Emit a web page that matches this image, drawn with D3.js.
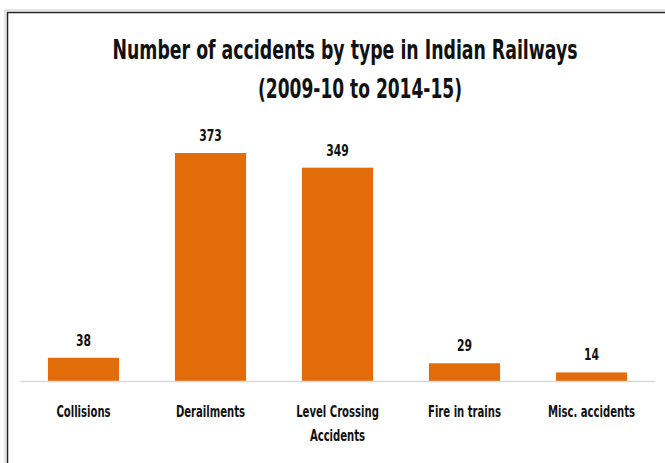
<!DOCTYPE html>
<html>
<head>
<meta charset="utf-8">
<script src="https://cdn.jsdelivr.net/npm/d3@7"></script>
<style>
  body { margin: 0; background: #fff; }
  text { font-family: "Liberation Sans Narrow", "DejaVu Sans Condensed", "Open Sans", sans-serif; font-weight: bold; fill: #111; }
</style>
</head>
<body>
<script>
const width = 665
const height = 463

// chart data
const categories = ["Collisions", "Derailments", "Level Crossing|Accidents", "Fire in trains", "Misc. accidents"]
const accidents = [38, 373, 349, 29, 14]
const titleLines = ["Number of accidents by type in Indian Railways", "(2009-10 to 2014-15)"]

const svg = d3.select("body").append("svg")
    .attr("width", width)
    .attr("height", height)

// frame of the pasted chart
svg.append("path")
    .attr("d", `M5,${height} V10 H${width}`)
    .attr("fill", "none")
    .attr("stroke", "#c8c8c8")
    .attr("stroke-width", 1)
svg.append("path")
    .attr("d", `M7.5,${height} V12.5 H${width}`)
    .attr("fill", "none")
    .attr("stroke", "#222")
    .attr("stroke-width", 1.5)

const x = d3.scaleBand()
    .domain(categories)
    .range([20, 655])
    .paddingInner(0.44)
    .paddingOuter(0.22)

const y = d3.scaleLinear()
    .domain([0, 373])
    .range([381, 153])

// squeeze DejaVu Condensed toward the narrow Calibri look
function squeeze(sel, k) {
    sel.each(function () {
        const len = this.getComputedTextLength()
        d3.select(this).attr("textLength", len * k).attr("lengthAdjust", "spacingAndGlyphs")
    })
}

// title
svg.append("text")
    .attr("x", 345).attr("y", 59)
    .attr("text-anchor", "middle")
    .attr("font-size", 26)
    .attr("textLength", 465)
    .attr("lengthAdjust", "spacingAndGlyphs")
    .text(titleLines[0])
svg.append("text")
    .attr("x", 360).attr("y", 98)
    .attr("text-anchor", "middle")
    .attr("font-size", 26)
    .attr("textLength", 204)
    .attr("lengthAdjust", "spacingAndGlyphs")
    .text(titleLines[1])

// bars
svg.append("g")
    .selectAll("rect")
    .data(accidents)
    .join("rect")
    .attr("x", (d, i) => x(categories[i]))
    .attr("y", d => y(d))
    .attr("width", x.bandwidth())
    .attr("height", d => y(0) - y(d))
    .attr("fill", "#e36c0a")

// value labels
svg.append("g")
    .selectAll("text")
    .data(accidents)
    .join("text")
    .attr("x", (d, i) => x(categories[i]) + x.bandwidth() / 2)
    .attr("y", d => y(d) - 12)
    .attr("text-anchor", "middle")
    .attr("font-size", 16)
    .text(d => d)
    .call(squeeze, 0.75)

// baseline axis
const axis = svg.append("g")
    .attr("transform", `translate(0,${y(0)})`)
    .call(d3.axisBottom(x).tickSize(0).tickSizeOuter(0).tickFormat(""))
axis.select(".domain").attr("stroke", "#d9d9d9").attr("stroke-width", 1.5)

// category labels (two lines where needed)
const labels = svg.append("g")
    .selectAll("text")
    .data(categories)
    .join("text")
    .attr("x", d => x(d) + x.bandwidth() / 2)
    .attr("y", 417)
    .attr("text-anchor", "middle")
    .attr("font-size", 16)

labels.selectAll("tspan")
    .data(d => d.split("|"))
    .join("tspan")
    .attr("x", function () { return this.parentNode.getAttribute("x") })
    .attr("dy", (d, i) => i === 0 ? 0 : 24)
    .text(d => d)
    .call(squeeze, 0.7)
</script>
</body>
</html>
